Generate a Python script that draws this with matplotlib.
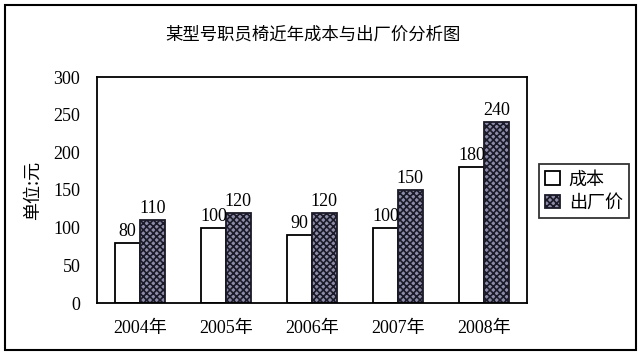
import matplotlib
matplotlib.use("Agg")
import matplotlib.pyplot as plt
import matplotlib.patches as mpatches
import numpy as np

plt.rcParams['font.family'] = ['Liberation Serif', 'Noto Sans CJK SC']
plt.rcParams['hatch.linewidth'] = 1.2

years = ["2004年", "2005年", "2006年", "2007年", "2008年"]
cost = [80, 100, 90, 100, 180]
price = [110, 120, 120, 150, 240]
series_names = ["成本", "出厂价"]
title = "某型号职员椅近年成本与出厂价分析图"

cjk = ['Noto Sans CJK SC', 'DejaVu Sans']

fig = plt.figure(figsize=(6.4, 3.63), dpi=100)
ax = fig.add_axes([97 / 640, 1 - 303 / 363, 430 / 640, 226 / 363])

x = np.arange(len(years))
w = 0.285
b1 = ax.bar(x - w / 2, cost, w, facecolor="white", edgecolor="black", linewidth=1.3,
            label=series_names[0])
b2 = ax.bar(x + w / 2, price, w, facecolor="#8c8ca8", edgecolor="#1a1a28", linewidth=1.3,
            hatch="xxxxx", label=series_names[1])

for xi, v in zip(x - w / 2, cost):
    ax.text(xi, v + 4, str(v), ha="center", va="bottom", fontsize=13)
for xi, v in zip(x + w / 2, price):
    ax.text(xi, v + 4, str(v), ha="center", va="bottom", fontsize=13)

ax.set_xlim(-0.5, len(years) - 0.5)
ax.set_ylim(0, 300)
ax.set_yticks(range(0, 301, 50))
ax.set_xticks(x)
ax.set_xticklabels(years, fontsize=13)
ax.tick_params(axis="both", length=0, labelsize=13)
ax.tick_params(axis="y", pad=12)
ax.tick_params(axis="x", pad=12)
for s in ax.spines.values():
    s.set_linewidth(1.3)

ax.set_ylabel("单位:元", fontsize=13, family=cjk, labelpad=8)

fig.text(313 / 640, 1 - 35 / 363, title, ha="center", va="center", fontsize=12.5,
         family=cjk)

leg = fig.legend(handles=[b1, b2], loc="center", bbox_to_anchor=(584 / 640, 1 - 191 / 363),
                 frameon=True, fancybox=False, edgecolor="black",
                 prop={'family': cjk, 'size': 13},
                 handlelength=0.8, handleheight=0.8, handletextpad=0.5, borderpad=0.35,
                 labelspacing=0.3, borderaxespad=0)
leg.get_frame().set_linewidth(1.3)

fig.patches.append(mpatches.Rectangle((5 / 640, 1 - 350 / 363), 631 / 640, 345 / 363,
                                      transform=fig.transFigure, fill=False,
                                      edgecolor="black", linewidth=1.5))

fig.savefig("out.png", dpi=100)
